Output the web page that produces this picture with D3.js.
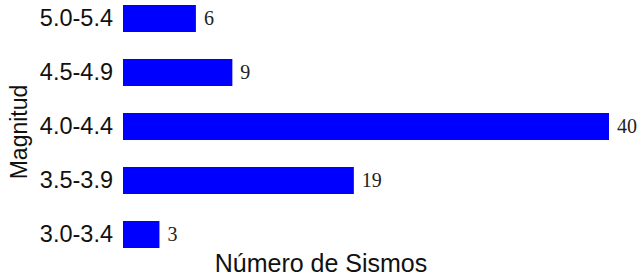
<!DOCTYPE html>
<html lang="es">
<head>
<meta charset="UTF-8">
<title>Sismos por magnitud</title>
<script src="https://d3js.org/d3.v7.min.js"></script>
<style>
  body { margin: 0; background: #fff; }
</style>
</head>
<body>
<div id="chart"></div>
<script>
// data
var magnitudes = ["5.0-5.4", "4.5-4.9", "4.0-4.4", "3.5-3.9", "3.0-3.4"];
var sismos = [6, 9, 40, 19, 3];

var W = 642, H = 279;
var x0 = 123, x1 = 609;

var svg = d3.select("#chart").append("svg")
    .attr("width", W)
    .attr("height", H);

var x = d3.scaleLinear()
    .domain([0, 40])
    .range([x0, x1]);

var y = d3.scaleBand()
    .domain(magnitudes)
    .range([5, 248])
    .paddingInner(0.5)
    .paddingOuter(0);

// bars
svg.append("g")
  .selectAll("rect")
  .data(magnitudes)
  .enter()
  .append("rect")
    .attr("x", x(0))
    .attr("y", function(d) { return y(d); })
    .attr("width", function(d, i) { return x(sismos[i]) - x(0); })
    .attr("height", y.bandwidth())
    .style("fill", "#0000ff");

// value labels
svg.append("g")
  .selectAll("text")
  .data(magnitudes)
  .enter()
  .append("text")
    .attr("x", function(d, i) { return x(sismos[i]) + 8; })
    .attr("y", function(d) { return y(d) + y.bandwidth() / 2; })
    .attr("dy", "0.33em")
    .style("font-family", "'Liberation Serif', 'Times New Roman', serif")
    .style("font-size", "20px")
    .style("fill", "#222")
    .text(function(d, i) { return sismos[i]; });

// y axis (labels only)
var yAxis = svg.append("g")
    .attr("transform", "translate(" + (x0 - 10) + ",0)")
    .call(d3.axisLeft(y).tickSize(0).tickPadding(0));
yAxis.select(".domain").remove();
yAxis.selectAll("text")
    .style("font-family", "'Liberation Sans', Arial, sans-serif")
    .style("font-size", "23.5px")
    .style("fill", "#111");

// axis titles
svg.append("text")
    .attr("x", W / 2)
    .attr("y", 272)
    .style("text-anchor", "middle")
    .style("font-family", "'Liberation Sans', Arial, sans-serif")
    .style("font-size", "25px")
    .style("fill", "#111")
    .text("Número de Sismos");

svg.append("text")
    .attr("transform", "translate(27,132) rotate(-90)")
    .style("text-anchor", "middle")
    .style("font-family", "'Liberation Sans', Arial, sans-serif")
    .style("font-size", "23px")
    .style("fill", "#111")
    .text("Magnitud");
</script>
</body>
</html>
